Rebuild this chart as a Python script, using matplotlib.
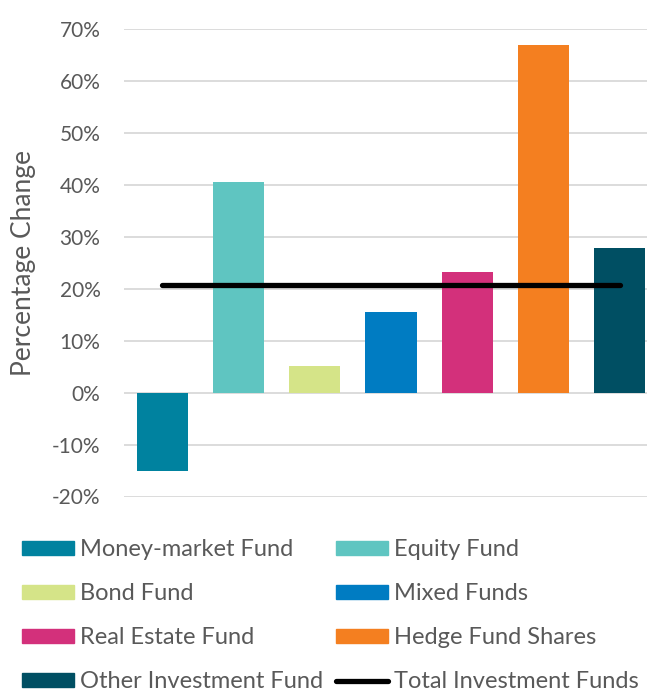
import numpy as np
import matplotlib
matplotlib.use("Agg")
import matplotlib.pyplot as plt
from matplotlib.patches import Patch
from matplotlib.lines import Line2D

plt.rcParams['font.family'] = ['Lato', 'DejaVu Sans']

# fund types and their percentage change
funds = ['Money-market Fund', 'Equity Fund', 'Bond Fund', 'Mixed Funds',
         'Real Estate Fund', 'Hedge Fund Shares', 'Other Investment Fund']
change = [-15.0, 40.6, 5.1, 15.6, 23.3, 66.9, 27.9]
total_label = 'Total Investment Funds'
total_change = 20.8
colors = ['#00829F', '#5FC5C1', '#D5E488', '#007CC2', '#D3307B', '#F47F20', '#004F63']
yticks = [-20, -10, 0, 10, 20, 30, 40, 50, 60, 70]

fig = plt.figure(figsize=(6.47, 6.91), dpi=100)
ax = fig.add_axes([124 / 647, 1 - 496.5 / 691, 534 / 647, 467.5 / 691])

x = np.arange(len(funds))
ax.bar(x, change, width=0.67, color=colors, zorder=2)
ax.plot(x, [total_change] * len(x), color='black', lw=3.8,
        solid_capstyle='round', zorder=3)

ax.set_xlim(-0.5, len(funds) - 0.5)
ax.set_ylim(-20, 70)
ax.set_yticks(yticks)
ax.set_yticklabels([f'{t}%' for t in yticks])
ax.set_xticks([])
ax.grid(axis='y', color='#d9d9d9', lw=1.3, zorder=0)
for s in ax.spines.values():
    s.set_visible(False)
ax.tick_params(axis='y', length=0, pad=17, labelsize=15, labelcolor='#595959')
ax.set_ylabel('Percentage Change', fontsize=19, color='#595959')
ax.yaxis.set_label_coords(-0.1645, 0.5)

# legend, filled row by row like the original
handles = [Patch(color=c) for c in colors] + [Line2D([], [], color='black', lw=3.8, solid_capstyle='round')]
labels = funds + [total_label]
order = [0, 2, 4, 6, 1, 3, 5, 7]
leg = fig.legend([handles[i] for i in order], [labels[i] for i in order],
                 ncol=2, loc='upper left', bbox_to_anchor=(22 / 647, 1 - 539 / 691),
                 frameon=False, fontsize=17, handlelength=2.2, handleheight=0.52,
                 handletextpad=0.25, columnspacing=0.55, labelspacing=0.98,
                 borderaxespad=0, borderpad=0)
for t in leg.get_texts():
    t.set_color('#595959')

fig.savefig('out.png', dpi=100)
